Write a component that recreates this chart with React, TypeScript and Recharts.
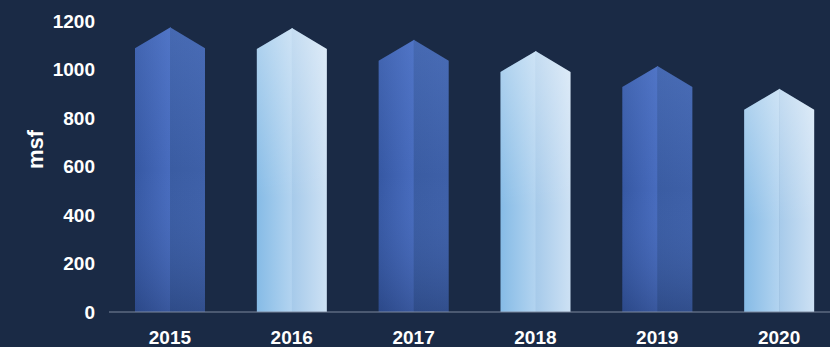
import { BarChart, Bar, XAxis, YAxis } from 'recharts';

const years = ['2015', '2016', '2017', '2018', '2019', '2020'];
const space = [1088, 1085, 1036, 990, 928, 834];
const yTicks = [0, 200, 400, 600, 800, 1000, 1200];

const data = years.map((year, i) => ({ year, space: space[i] }));

const font = '"Liberation Sans", Arial, sans-serif';

// Prism-like bar: two faces with a pointed roof above the value
const PrismBar = (props: any) => {
  const { x, y, width, height, index } = props;
  if (!height || height <= 0) return null;
  const mid = x + width / 2;
  const roof = width * 0.3;
  const kind = index % 2 === 0 ? 'dark' : 'light';
  const left = `${x},${y} ${mid + 0.6},${y - roof} ${mid + 0.6},${y + height} ${x},${y + height}`;
  const right = `${mid},${y - roof} ${x + width},${y} ${x + width},${y + height} ${mid},${y + height}`;
  return (
    <g>
      <polygon points={left} fill={`url(#${kind}Left)`} />
      <polygon points={left} fill={`url(#${kind}Shade)`} />
      <polygon points={right} fill={`url(#${kind}Right)`} />
      <polygon points={right} fill={`url(#${kind}Shade)`} />
    </g>
  );
};

const MsfLabel = (props: any) => {
  const { viewBox } = props;
  const cx = 35;
  const cy = viewBox.y + viewBox.height / 2 - 17;
  return (
    <text
      x={cx}
      y={cy}
      transform={`rotate(-90, ${cx}, ${cy})`}
      textAnchor="middle"
      dominantBaseline="central"
      fill="#ffffff"
      fontSize={22}
      fontWeight="bold"
      fontFamily={font}
    >
      msf
    </text>
  );
};

export default function App() {
  return (
    <div
      style={{
        position: 'absolute',
        left: 0,
        top: 0,
        width: 830,
        height: 347,
        overflow: 'hidden',
        background: '#1a2a45',
      }}
    >
      <BarChart
        width={840}
        height={347}
        data={data}
        margin={{ top: 21, right: 0, left: 0, bottom: 0 }}
      >
        <defs>
          <linearGradient id="darkLeft" x1="0" y1="0" x2="1" y2="0">
            <stop offset="0%" stopColor="#3658a3" />
            <stop offset="100%" stopColor="#486cbe" />
          </linearGradient>
          <linearGradient id="darkRight" x1="0" y1="0" x2="1" y2="0">
            <stop offset="0%" stopColor="#3a5ca2" />
            <stop offset="100%" stopColor="#3e60a8" />
          </linearGradient>
          <linearGradient id="darkShade" x1="0" y1="0" x2="0" y2="1">
            <stop offset="0%" stopColor="#6a90e0" stopOpacity={0.25} />
            <stop offset="50%" stopColor="#6a90e0" stopOpacity={0} />
            <stop offset="100%" stopColor="#0c1a3a" stopOpacity={0.25} />
          </linearGradient>
          <linearGradient id="lightLeft" x1="0" y1="0" x2="1" y2="0">
            <stop offset="0%" stopColor="#86bbe6" />
            <stop offset="100%" stopColor="#b3d4f0" />
          </linearGradient>
          <linearGradient id="lightRight" x1="0" y1="0" x2="1" y2="0">
            <stop offset="0%" stopColor="#a6caea" />
            <stop offset="100%" stopColor="#cde1f4" />
          </linearGradient>
          <linearGradient id="lightShade" x1="0" y1="0" x2="0" y2="1">
            <stop offset="0%" stopColor="#ffffff" stopOpacity={0.35} />
            <stop offset="60%" stopColor="#ffffff" stopOpacity={0} />
            <stop offset="100%" stopColor="#ffffff" stopOpacity={0} />
          </linearGradient>
        </defs>
        <XAxis
          dataKey="year"
          height={35}
          tickSize={0}
          tickMargin={19}
          axisLine={{ stroke: '#7c889e', strokeWidth: 1 }}
          tickLine={false}
          tick={{ fill: '#ffffff', fontSize: 19, fontWeight: 'bold', fontFamily: font }}
          interval={0}
        />
        <YAxis
          width={109}
          domain={[0, 1200]}
          ticks={yTicks}
          tickSize={0}
          tickMargin={14}
          axisLine={false}
          tickLine={false}
          tick={{ fill: '#ffffff', fontSize: 19, fontWeight: 'bold', fontFamily: font }}
          label={<MsfLabel />}
        />
        <Bar dataKey="space" barSize={70} shape={<PrismBar />} isAnimationActive={false} />
      </BarChart>
    </div>
  );
}
